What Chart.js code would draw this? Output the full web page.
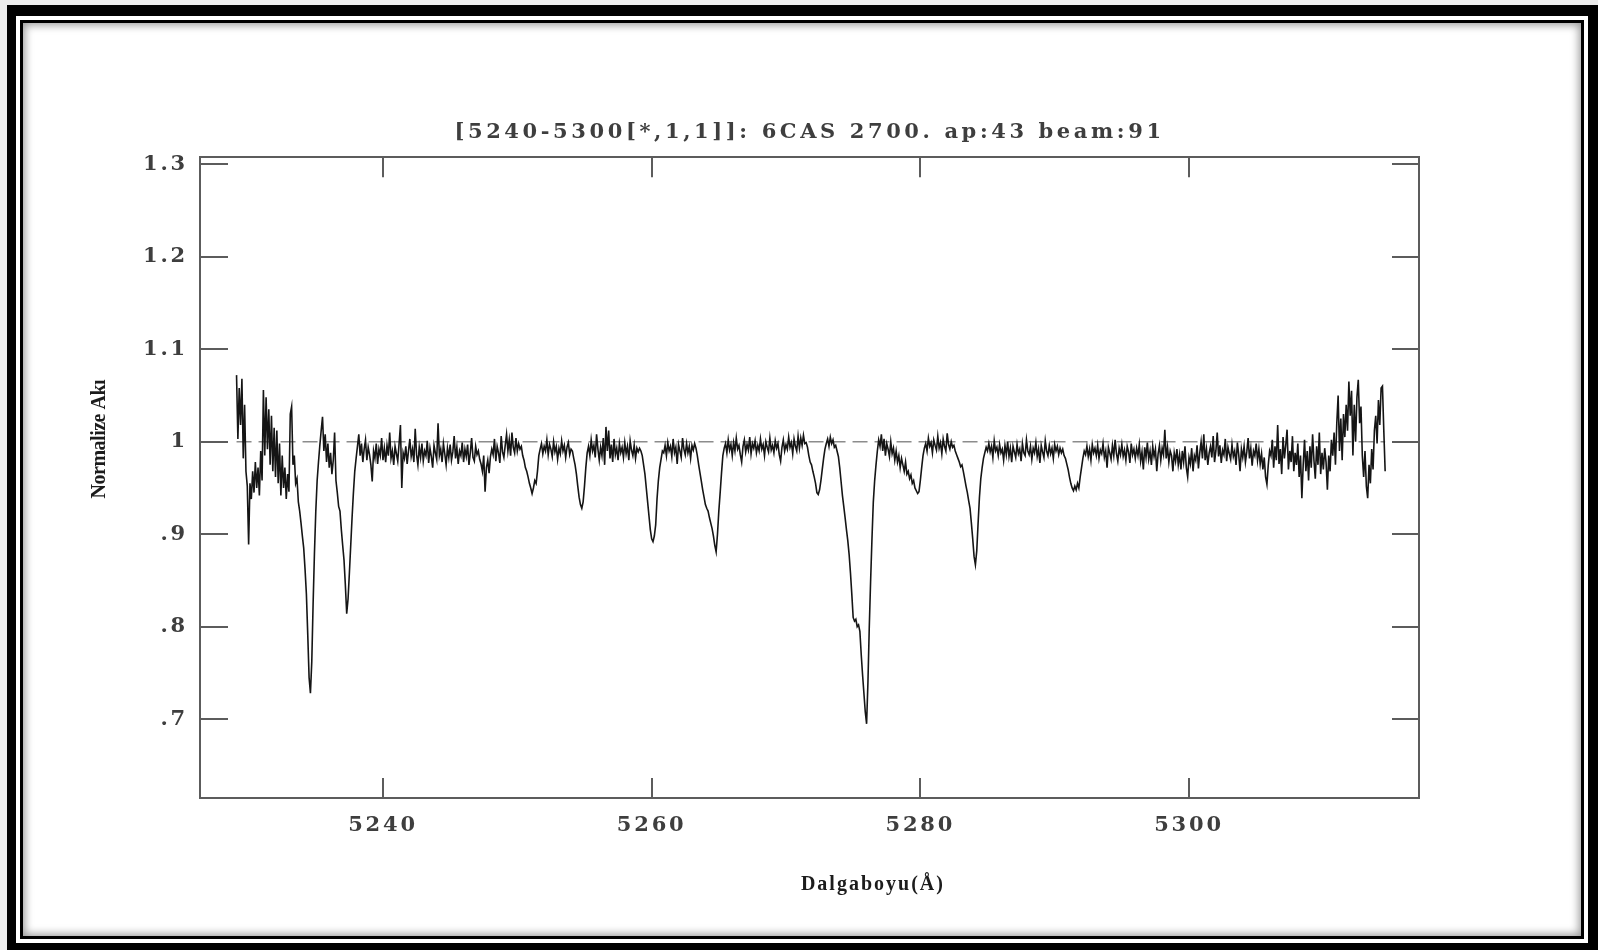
<!DOCTYPE html>
<html>
<head>
<meta charset="utf-8">
<title>6CAS 5240-5300</title>
<script src="https://cdn.jsdelivr.net/npm/chart.js@4.4.1/dist/chart.umd.min.js"></script>
<style>
    html, body { margin: 0; padding: 0; background: #ececec; }
    body { width: 1598px; height: 950px; position: relative; overflow: hidden; }
    .frame {
        position: absolute; left: 7px; top: 5px; width: 1591px; height: 945px;
        box-sizing: border-box; background: #fff;
        border: solid #000; border-width: 11px 10px 7px 9px;
    }
    .panel {
        position: absolute; left: 4px; top: 4px; right: 4px; bottom: 4px;
        border: 3px solid #000;
        box-shadow: inset 0 0 9px 2px rgba(0, 0, 0, 0.4);
    }
    #spectrum { position: absolute; left: 0; top: 0; }
</style>
</head>
<body>
<div class="frame"><div class="panel"></div></div>
<canvas id="spectrum" width="1598" height="950"></canvas>
<script>
/**
 * 6CAS echelle order, ap 43 / beam 91, continuum normalised
 */

// dispersion of the extracted order
const WAVE_START = 5229.1;
const WAVE_STEP = 0.1;

// normalised flux, one row per Angstrom
const flux = [
    1.072, 1.003, 1.058, 1.018, 1.068, .982, 1.040, .968, .952, .889,
    .955, .938, .968, .945, .978, .950, .972, .942, .990, .958,
    1.056, .985, 1.048, .992, 1.035, .975, 1.028, .968, 1.015, .962,
    1.012, .955, .998, .942, .985, .950, .972, .938, .965, .946,
    1.030, 1.038, .975, .985, .955, .960, .935, .925, .912, .898,
    .885, .862, .835, .792, .745, .728, .762, .825, .880, .925,
    .958, .978, .996, 1.012, 1.027, .990, 1.008, .978, .998, .972,
    .988, .965, .980, 1.010, .958, .945, .930, .925, .905, .888,
    .872, .845, .814, .830, .858, .888, .918, .945, .968, .982,
    .995, 1.008, .985, .998, .978, .992, 1.002, .980, .994, .986,
    .975, .957, .990, .982, .998, .976, .992, .985, 1.004, .980,
    .993, .978, .996, .985, 1.010, .982, .990, .975, .995, .987,
    .979, .998, 1.018, .950, .988, .982, .995, .976, .990, 1.003,
    .984, .992, .978, 1.014, .986, .975, .994, .983, .998, .979,
    .990, .985, 1.001, .977, .993, .984, .972, .996, .988, .981,
    1.020, .985, .992, .978, .998, .987, .975, .993, .983, .997,
    .980, .989, 1.006, .982, .994, .976, .990, .985, .999, .978,
    .992, .984, .997, .975, .988, 1.004, .983, .979, .995, .986,
    .990, .981, .976, .968, .985, .946, .972, .980, .966, .984,
    .992, .986, 1.003, .979, .995, .988, .977, 1.006, .989, .983,
    .996, 1.008, .990, 1.002, .985, 1.010, .994, .988, 1.004, .990,
    .998, .992, .995, .985, .980, .972, .968, .962, .955, .950,
    .944, .950, .958, .955, .968, .985, .992, .998, .987, .995,
    .990, 1.002, .986, .997, .992, .984, 1.000, .989, .995, .981,
    .993, .987, 1.001, .990, .996, .983, .994, .999, .986, .992,
    .990, .982, .975, .965, .952, .940, .932, .928, .935, .952,
    .972, .988, .995, .985, 1.002, .990, .996, .983, 1.008, .992,
    .980, .994, .985, 1.004, .975, 1.016, .990, 1.012, .982, .997,
    .978, 1.003, .986, .993, .980, .998, .988, .994, .983, .999,
    .987, .995, .980, 1.001, .991, .985, .996, .982, .993, .989,
    .993, .990, .985, .975, .965, .950, .935, .920, .905, .895,
    .892, .898, .910, .938, .958, .972, .981, .990, .988, .996,
    .985, .999, .990, .995, .984, 1.003, .988, .994, .976, .997,
    .990, .983, 1.004, .992, .986, .998, .988, .995, .982, .996,
    .991, .998, .993, .985, .975, .966, .957, .948, .940, .932,
    .928, .925, .918, .912, .906, .898, .888, .881, .900, .925,
    .945, .966, .985, .993, .998, .988, 1.002, .991, .997, .985,
    .999, .990, 1.004, .992, .996, .986, .978, .995, 1.002, .989,
    .997, .991, 1.005, .987, .998, .993, 1.001, .988, .996, .990,
    1.003, .992, .997, .985, 1.000, .994, .989, 1.004, .991, .996,
    .988, 1.001, .993, .998, .986, .979, .994, 1.002, .990, .997,
    .992, 1.005, .994, .999, .987, 1.003, .995, .990, 1.006, .993,
    1.004, .996, 1.007, .998, .999, .994, .985, .978, .975, .968,
    .962, .955, .945, .943, .948, .958, .970, .982, .992, .998,
    1.003, .995, 1.005, .998, 1.002, .994, .996, .990, .984, .972,
    .957, .942, .930, .918, .905, .893, .878, .858, .835, .810,
    .806, .808, .800, .802, .795, .770, .748, .728, .708, .695,
    .740, .800, .850, .895, .935, .958, .975, .990, 1.002, .995,
    1.008, .990, 1.003, .985, .998, .992, .984, 1.000, .987, .993,
    .980, .990, .978, .985, .972, .982, .975, .968, .978, .965,
    .968, .960, .964, .955, .958, .950, .947, .944, .946, .958,
    .972, .985, .993, .998, .990, 1.004, .995, .999, .988, 1.002,
    .996, .991, 1.006, .993, .999, .987, 1.003, .995, .990, 1.009,
    .997, .992, 1.000, .994, .996, .990, .986, .982, .978, .973,
    .975, .968, .960, .952, .945, .936, .928, .912, .895, .876,
    .867, .882, .912, .940, .960, .972, .982, .988, .994, .990,
    .998, .989, .995, .983, 1.001, .990, .994, .985, .997, .988,
    .992, .980, .996, .986, 1.000, .984, .993, .978, .995, .989,
    .983, .997, .987, .992, .979, .998, .988, .985, 1.002, .990,
    .986, .995, .981, .993, .988, .999, .984, .992, .977, .996,
    .989, .983, 1.001, .990, .985, .996, .987, .993, .982, .997,
    .990, .995, .986, .993, .988, .992, .985, .982, .976, .970,
    .962, .955, .950, .947, .952, .948, .955, .950, .962, .972,
    .982, .990, .986, .995, .984, .992, .980, .997, .988, .993,
    .985, .996, .982, .991, .987, .998, .983, .990, .972, .994,
    .988, .981, .996, .985, 1.002, .987, .979, .993, .986, .997,
    .984, .991, .980, .995, .989, .977, .998, .986, .992, .982,
    .993, .985, .997, .979, .989, .970, .994, .983, .999, .981,
    .990, .975, .995, .984, .992, .968, .987, .996, .980, .993,
    .986, 1.013, .982, .994, .978, .990, .985, .968, .988, .979,
    .992, .975, .986, .970, .990, .978, .995, .972, .962, .983,
    .976, .993, .968, .985, .980, .996, .971, .988, 1.000, .982,
    1.008, .980, .992, .975, .988, .995, .983, 1.006, .978, .990,
    1.010, .984, .996, .977, .991, .986, 1.003, .979, .994, .987,
    .981, .997, .984, .990, .975, .999, .986, .968, .992, .983,
    .995, .978, .989, 1.004, .982, .993, .974, .990, .985, .998,
    .980, .992, .976, .987, .970, .983, .962, .954, .975, .990,
    .985, 1.002, .972, .995, .980, 1.018, .976, .992, .965, 1.005,
    .982, .996, 1.013, .970, .990, .978, 1.006, .968, .988, .975,
    .998, .962, .985, .939, .975, 1.002, .968, .990, .958, .995,
    .972, 1.008, .980, .960, .995, .975, 1.010, .965, .988, .970,
    .993, .978, .948, .985, .968, 1.002, .985, 1.010, .975, 1.020,
    1.050, .990, 1.025, .980, 1.030, 1.005, 1.040, 1.012, 1.065, 1.028,
    1.055, .985, 1.040, 1.000, 1.048, 1.067, 1.020, 1.038, .985, .962,
    .990, .952, .939, .975, .955, .992, .970, 1.012, 1.028, .998,
    1.045, 1.018, 1.058, 1.060, 1.012, .968
];

const continuumLevel = 1;

const xRange = [5226.38, 5317.12];
const yRange = [0.6148, 1.3076];
const xTickValues = [5240, 5260, 5280, 5300];
const yTickValues = [0.7, 0.8, 0.9, 1.0, 1.1, 1.2, 1.3];
const yTickLabels = ['.7', '.8', '.9', '1', '1.1', '1.2', '1.3'];

const plotTitle = '[5240-5300[*,1,1]]: 6CAS 2700. ap:43 beam:91';
const xAxisTitle = 'Dalgaboyu(Å)';
const yAxisTitle = 'Normalize Akı';

const AXIS_COLOR = '#5c5c5c';
const TEXT_COLOR = '#3e3e3e';
const PLOT_FONT = { family: '"DejaVu Serif"', size: 21, weight: 'bold' };
const TITLE_SPACING = '3.6px';
const TICK_SPACING = '2.8px';

const wavelengths = flux.map((_, i) => WAVE_START + i * WAVE_STEP);
const spectrumPoints = flux.map((f, i) => ({ x: wavelengths[i], y: f }));
const continuumPoints = [
    { x: wavelengths[0], y: continuumLevel },
    { x: wavelengths[wavelengths.length - 1], y: continuumLevel }
];

// IRAF style: ticks point inward on all four sides
function boxAxis(position, ticks, tickLength, extra) {
    const horizontal = position === 'top' || position === 'bottom';
    return {
        type: 'linear',
        position: position,
        min: horizontal ? xRange[0] : yRange[0],
        max: horizontal ? xRange[1] : yRange[1],
        afterBuildTicks: scale => {
            scale.ticks = ticks.map(value => ({ value }));
        },
        grid: {
            drawOnChartArea: false,
            drawTicks: true,
            tickLength: -tickLength,
            color: AXIS_COLOR,
            lineWidth: 2
        },
        border: {
            display: true,
            color: AXIS_COLOR,
            width: 2
        },
        ...extra
    };
}

// wide spacing of the plot-package lettering; tick labels are drawn
// after the datasets (ticks.z = 1), so they get their own spacing
const letterSpacing = {
    id: 'letterSpacing',
    beforeLayout(chart) { chart.ctx.letterSpacing = TICK_SPACING; },
    beforeDraw(chart) { chart.ctx.letterSpacing = TITLE_SPACING; },
    afterDatasetsDraw(chart) { chart.ctx.letterSpacing = TICK_SPACING; }
};

const axisTitles = {
    id: 'axisTitles',
    afterDraw(chart) {
        const { ctx, chartArea: area } = chart;
        ctx.save();
        ctx.fillStyle = '#1c1c1c';
        ctx.textAlign = 'center';
        ctx.textBaseline = 'middle';

        ctx.font = 'bold 20px "Liberation Serif"';
        ctx.letterSpacing = '2px';
        ctx.fillText(xAxisTitle, area.left + (area.right - area.left) * 0.552, area.bottom + 87);

        ctx.translate(area.left - 100, area.top + (area.bottom - area.top) * 0.44);
        ctx.rotate(-Math.PI / 2);
        ctx.font = 'bold 20px "Liberation Serif"';
        ctx.letterSpacing = '-0.5px';
        ctx.fillText(yAxisTitle, 0, 0);
        ctx.restore();
    }
};

new Chart(document.getElementById('spectrum'), {
    type: 'line',
    data: {
        datasets: [{
            data: spectrumPoints,
            borderColor: '#151515',
            borderWidth: 1.6,
            pointRadius: 0,
            tension: 0,
            order: 0
        }, {
            data: continuumPoints,
            borderColor: '#8c8c8c',
            borderWidth: 1.6,
            borderDash: [15, 7],
            pointRadius: 0,
            order: 1
        }]
    },
    options: {
        responsive: false,
        animation: false,
        events: [],
        layout: {
            padding: { top: 100, right: 179, bottom: 92, left: 0 }
        },
        scales: {
            x: boxAxis('bottom', xTickValues, 20, {
                ticks: {
                    z: 1,
                    color: TEXT_COLOR,
                    font: PLOT_FONT,
                    padding: 35,
                    maxRotation: 0,
                    callback: value => String(value)
                },
                afterFit: scale => { scale.height = 60; }
            }),
            x2: boxAxis('top', xTickValues, 20, {
                ticks: { display: false },
                afterFit: scale => { scale.height = 0; }
            }),
            y: boxAxis('left', yTickValues, 28, {
                ticks: {
                    z: 1,
                    color: TEXT_COLOR,
                    font: PLOT_FONT,
                    padding: 40,
                    callback: (value, index) => yTickLabels[index]
                },
                afterFit: scale => { scale.width = 200; }
            }),
            y2: boxAxis('right', yTickValues, 27, {
                ticks: { display: false },
                afterFit: scale => { scale.width = 0; }
            })
        },
        plugins: {
            legend: { display: false },
            tooltip: { enabled: false },
            title: {
                display: true,
                fullSize: false,
                text: plotTitle,
                color: TEXT_COLOR,
                font: PLOT_FONT,
                padding: { top: 20, bottom: 12 }
            }
        }
    },
    plugins: [letterSpacing, axisTitles]
});
</script>
</body>
</html>
